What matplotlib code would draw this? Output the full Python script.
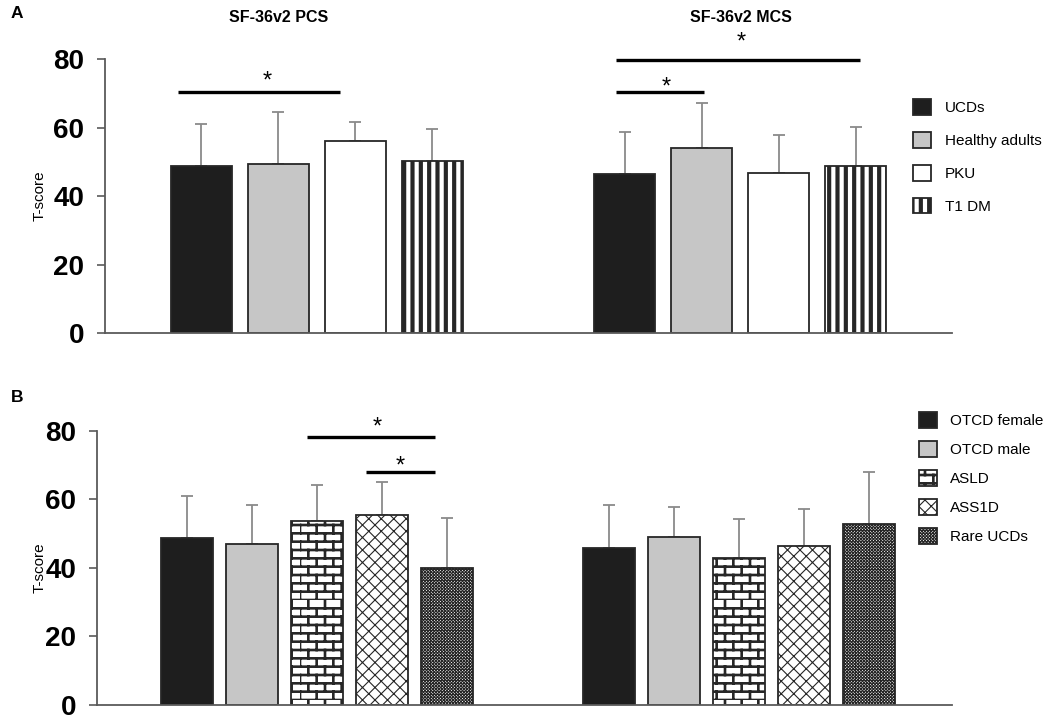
import numpy as np
import matplotlib
matplotlib.use('Agg')
import matplotlib.pyplot as plt
import matplotlib.hatch as mhatch
from matplotlib.path import Path
from matplotlib.patches import Patch

plt.rcParams['font.family'] = ['Liberation Sans', 'DejaVu Sans']

# ---- data ----
top_groups = ['UCDs', 'Healthy adults', 'PKU', 'T1 DM']
top_pcs_mean = [48.8, 49.3, 56.1, 50.2]
top_pcs_sd = [12.2, 15.3, 5.6, 9.5]
top_mcs_mean = [46.5, 54.0, 46.9, 48.9]
top_mcs_sd = [12.2, 13.2, 10.9, 11.3]

bottom_groups = ['OTCD female', 'OTCD male', 'ASLD', 'ASS1D', 'Rare UCDs']
bottom_pcs_mean = [48.8, 47.0, 53.6, 55.5, 40.0]
bottom_pcs_sd = [12.2, 11.2, 10.5, 9.4, 14.5]
bottom_mcs_mean = [45.8, 49.1, 42.8, 46.4, 52.8]
bottom_mcs_sd = [12.4, 8.5, 11.5, 10.7, 15.2]

# significance brackets: (x_start, x_end, line_y, star_x, star_y), x in bar slots
top_sig = [(-0.30, 1.80, 70.5, 0.86, 73.5),
           (5.38, 6.53, 70.5, 6.04, 71.8),
           (5.38, 8.56, 79.9, 7.01, 84.9)]
bottom_sig = [(1.85, 3.82, 78.3, 2.93, 81.0),
              (2.76, 3.82, 68.0, 3.28, 69.5)]

panel_titles = ['SF-36v2 PCS', 'SF-36v2 MCS']
yticks = [0, 20, 40, 60, 80]


# ---- custom hatches (brick wall and diamond lattice) ----
class BrickHatch(mhatch.HatchPatternBase):
    def __init__(self, hatch, density):
        self.rows = 12 if 'O' in hatch else 0
        self.per_row = 6
        self.num_vertices = 2 * self.rows * (1 + self.per_row)

    def set_vertices_and_codes(self, vertices, codes):
        k = 0
        h = 1.0 / self.rows
        for r in range(self.rows):
            y = r * h
            vertices[k] = (0, y)
            vertices[k + 1] = (1, y)
            k += 2
            shift = (r % 2) * 0.5 / self.per_row
            for j in range(self.per_row):
                x = j / self.per_row + shift
                vertices[k] = (x, y)
                vertices[k + 1] = (x, y + h)
                k += 2
        codes[0::2] = Path.MOVETO
        codes[1::2] = Path.LINETO


class DiamondHatch(mhatch.HatchPatternBase):
    def __init__(self, hatch, density):
        self.num_lines = 16 * hatch.count('o')
        self.num_vertices = 4 * (self.num_lines + 1) if self.num_lines else 0

    def set_vertices_and_codes(self, vertices, codes):
        n = self.num_lines + 1
        steps = np.linspace(-0.5, 0.5, n)
        ne = vertices[:2 * n]
        se = vertices[2 * n:]
        ne[0::2, 0] = steps
        ne[0::2, 1] = -steps
        ne[1::2, 0] = 1 + steps
        ne[1::2, 1] = 1 - steps
        se[0::2, 0] = steps
        se[0::2, 1] = 1 + steps
        se[1::2, 0] = 1 + steps
        se[1::2, 1] = steps
        codes[0::2] = Path.MOVETO
        codes[1::2] = Path.LINETO


mhatch._hatch_types = [mhatch.HorizontalHatch, mhatch.VerticalHatch,
                       mhatch.NorthEastHatch, mhatch.SouthEastHatch,
                       mhatch.SmallFilledCircles, mhatch.Stars,
                       BrickHatch, DiamondHatch]

edge = '#262626'
axis_gray = '#5a5a5a'
top_styles = [dict(fc='#1e1e1e', hatch=None, hlw=1.0),
              dict(fc='#c6c6c6', hatch=None, hlw=1.0),
              dict(fc='white', hatch=None, hlw=1.0),
              dict(fc='white', hatch='||', hlw=3.0)]
bottom_styles = [dict(fc='#1e1e1e', hatch=None, hlw=1.0),
                 dict(fc='#c6c6c6', hatch=None, hlw=1.0),
                 dict(fc='white', hatch='O', hlw=1.9),
                 dict(fc='white', hatch='o', hlw=0.8),
                 dict(fc='white', hatch='oooo', hlw=0.8)]


def set_hlw(artist, lw):
    # hatch line width, applied while the patch is drawn
    if hasattr(artist, 'set_hatch_linewidth'):
        artist.set_hatch_linewidth(lw)
    orig = artist.draw

    def draw(renderer, *a, **k):
        with plt.rc_context({'hatch.linewidth': lw}):
            if hasattr(artist, 'set_hatch_linewidth'):
                artist.set_hatch_linewidth(lw)
            return orig(renderer, *a, **k)
    artist.draw = draw


def draw_panel(ax, starts, means, sds, styles, width):
    for start, mean, sd in zip(starts, means, sds):
        x = start + np.arange(len(mean))
        ax.errorbar(x, mean, yerr=[np.zeros(len(sd)), sd], fmt='none',
                    ecolor='#8a8a8a', elinewidth=1.3, capsize=4.5,
                    capthick=1.3, zorder=1)
        for xi, m, st in zip(x, mean, styles):
            bars = ax.bar(xi, m, width, color=st['fc'], edgecolor=edge,
                          linewidth=1.3, hatch=st['hatch'], zorder=2)
            for b in bars:
                set_hlw(b, st['hlw'])
    ax.set_ylim(0, 80)
    ax.set_yticks(yticks)
    ax.set_yticklabels([str(t) for t in yticks], fontsize=20, fontweight='bold')
    ax.set_xticks([])
    ax.tick_params(axis='y', length=6, width=1.2, color=axis_gray, pad=9)
    for s in ['top', 'right']:
        ax.spines[s].set_visible(False)
    for s in ['left', 'bottom']:
        ax.spines[s].set_color(axis_gray)
        ax.spines[s].set_linewidth(1.3)


def draw_sig(ax, sig):
    for x0, x1, y, sx, sy in sig:
        ax.plot([x0, x1], [y, y], color='black', lw=2.4, clip_on=False,
                solid_capstyle='butt')
        ax.text(sx, sy, '*', fontsize=17, ha='center', va='center', clip_on=False)


def make_legend(ax, labels, styles, anchor, spacing, textpad):
    handles = [Patch(facecolor=st['fc'], edgecolor=edge, hatch=st['hatch'],
                     linewidth=1.3) for st in styles]
    leg = ax.legend(handles, labels, loc='upper left', bbox_to_anchor=anchor,
                    bbox_transform=ax.figure.transFigure, frameon=False,
                    fontsize=11, handlelength=1.2, handleheight=1.2,
                    handletextpad=textpad, labelspacing=spacing,
                    borderpad=0, borderaxespad=0)
    for p, st in zip(leg.get_patches(), styles):
        set_hlw(p, st['hlw'])


fig = plt.figure(figsize=(10.5, 7.19), dpi=100)
W, H = 1050.0, 719.0

ax1 = fig.add_axes([105 / W, 1 - 333.3 / H, (952 - 105) / W, (333.3 - 59.3) / H])
draw_panel(ax1, [0, 5.5], [top_pcs_mean, top_mcs_mean], [top_pcs_sd, top_mcs_sd],
           top_styles, 0.79)
ax1.set_xlim(-1.25, 9.75)
draw_sig(ax1, top_sig)
make_legend(ax1, top_groups, top_styles, (913 / W, 1 - 99 / H), 1.11, 0.9)

ax2 = fig.add_axes([97 / W, 1 - 704.7 / H, (952 - 97) / W, (704.7 - 430.7) / H])
draw_panel(ax2, [0, 6.5], [bottom_pcs_mean, bottom_mcs_mean],
           [bottom_pcs_sd, bottom_mcs_sd], bottom_styles, 0.8)
ax2.set_xlim(-1.38, 11.78)
draw_sig(ax2, bottom_sig)
make_legend(ax2, bottom_groups, bottom_styles, (919 / W, 1 - 412 / H), 0.85, 0.8)

fig.text(279 / W, 1 - 18 / H, panel_titles[0], fontsize=11.5, fontweight='bold',
         ha='center', va='center')
fig.text(741 / W, 1 - 18 / H, panel_titles[1], fontsize=11.5, fontweight='bold',
         ha='center', va='center')
fig.text(17 / W, 1 - 13 / H, 'A', fontsize=12.5, fontweight='bold', ha='center', va='center')
fig.text(17 / W, 1 - 398 / H, 'B', fontsize=12.5, fontweight='bold', ha='center', va='center')
fig.text(40 / W, 1 - 196 / H, 'T-score', fontsize=11, rotation=90, ha='center', va='center')
fig.text(40 / W, 1 - 568 / H, 'T-score', fontsize=11, rotation=90, ha='center', va='center')

fig.savefig('out.png', dpi=100)
